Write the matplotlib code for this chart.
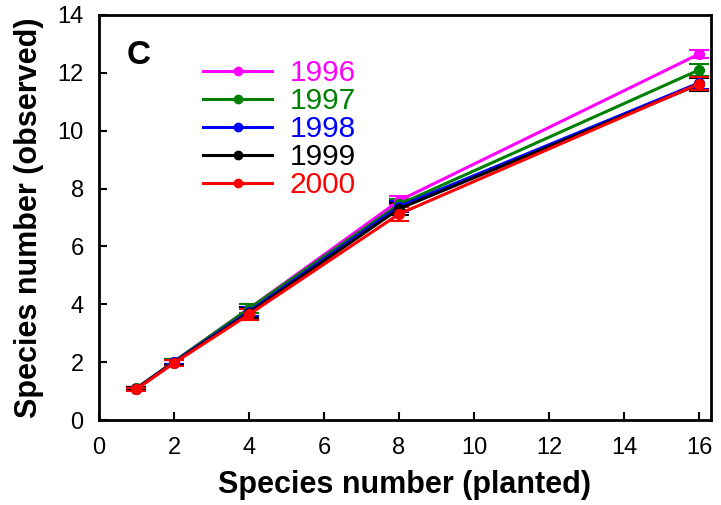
import numpy as np
import matplotlib
matplotlib.use('Agg')
import matplotlib.pyplot as plt

plt.rcParams['font.family'] = ['Liberation Sans', 'DejaVu Sans']

# planted richness levels
planted = [1, 2, 4, 8, 16]
years = ['1996', '1997', '1998', '1999', '2000']
colors = ['#ff00ff', '#008000', '#0000ff', '#000000', '#ff0000']

# observed species number (means) per year
obs_1996 = [1.10, 2.02, 3.85, 7.58, 12.65]
obs_1997 = [1.10, 2.02, 3.85, 7.45, 12.10]
obs_1998 = [1.08, 2.00, 3.75, 7.38, 11.65]
obs_1999 = [1.08, 1.98, 3.70, 7.30, 11.60]
obs_2000 = [1.07, 1.97, 3.65, 7.12, 11.62]

# standard errors
se_1996 = [0.05, 0.08, 0.15, 0.15, 0.15]
se_1997 = [0.05, 0.08, 0.15, 0.18, 0.20]
se_1998 = [0.05, 0.08, 0.16, 0.20, 0.22]
se_1999 = [0.05, 0.08, 0.16, 0.20, 0.22]
se_2000 = [0.05, 0.10, 0.18, 0.25, 0.22]

means = [obs_1996, obs_1997, obs_1998, obs_1999, obs_2000]
errs = [se_1996, se_1997, se_1998, se_1999, se_2000]

fig = plt.figure(figsize=(7.21, 5.05), dpi=100)
ax = fig.add_axes([0.1373, 0.1683, 0.8488, 0.8020])

for yr, c, m, e in zip(years, colors, means, errs):
    ax.errorbar(planted, m, yerr=e, color=c, lw=2.2, marker='o', ms=7,
                capsize=7, capthick=1.5, elinewidth=1.5, label=yr)

ax.set_xlim(0, 16.32)
ax.set_ylim(0, 14)
ax.set_xticks(np.arange(0, 17, 2))
ax.set_yticks(np.arange(0, 15, 2))
ax.tick_params(direction='in', length=6, width=1.5, labelsize=17)
ax.tick_params(axis='x', pad=12.5)
ax.tick_params(axis='y', pad=11)
for s in ax.spines.values():
    s.set_linewidth(2)

ax.set_xlabel('Species number (planted)', fontsize=22, fontweight='bold', labelpad=8)
ax.set_ylabel('Species number (observed)', fontsize=22, fontweight='bold', labelpad=10)

ax.text(0.75, 12.6, 'C', fontsize=24, fontweight='bold', va='center')

# legend with coloured labels, no errorbars shown
handles = [plt.Line2D([], [], color=c, lw=2.2, marker='o', ms=6) for c in colors]
leg = ax.legend(handles, years, loc='upper left', bbox_to_anchor=(0.151, 0.92),
                frameon=False, fontsize=21.5, handlelength=2.3, handletextpad=0.6,
                labelspacing=0.0, borderaxespad=0.0)
for t, c in zip(leg.get_texts(), colors):
    t.set_color(c)

plt.savefig('out.png', dpi=100)
